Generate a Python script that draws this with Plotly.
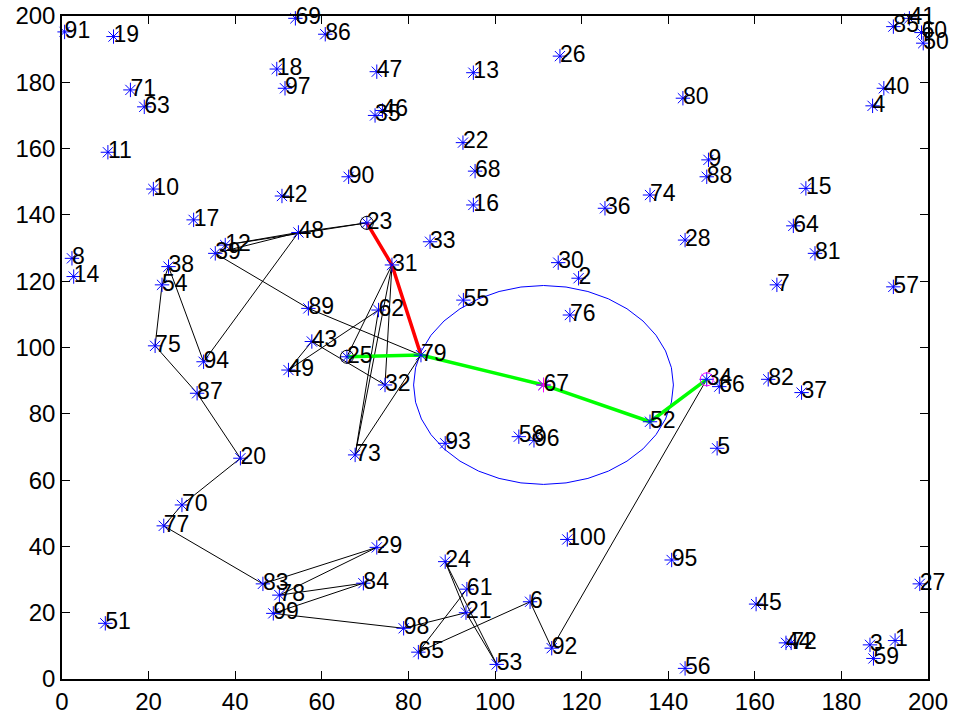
import numpy as np
import plotly.graph_objects as go

node_ids = list(range(1, 101))
node_x = [192.4, 119.3, 186.6, 187.2, 151.3, 108.1, 165.1, 2.3, 149.3, 21.1,
          10.6, 37.7, 95.0, 2.7, 171.8, 95.0, 30.4, 49.6, 11.9, 41.2,
          93.3, 92.6, 70.4, 88.5, 65.8, 115.0, 198.1, 143.9, 72.7, 114.6,
          76.2, 74.6, 85.0, 148.9, 72.3, 125.4, 170.8, 24.6, 35.4, 189.8,
          195.7, 50.8, 57.7, 167.2, 160.3, 74.0, 72.7, 54.6, 52.3, 198.9,
          10.0, 135.8, 100.4, 23.1, 92.7, 143.9, 192.0, 105.5, 187.4, 198.5,
          93.5, 73.1, 19.0, 168.9, 82.3, 151.8, 111.2, 95.4, 53.9, 27.7,
          15.8, 168.4, 67.7, 135.8, 21.5, 117.3, 23.5, 50.2, 82.9, 143.4,
          173.9, 163.1, 46.4, 69.6, 192.0, 60.8, 31.2, 148.9, 56.9, 66.2,
          0.6, 113.1, 88.5, 32.7, 140.8, 109.0, 51.5, 78.9, 48.8, 116.7]
node_y = [11.6, 120.9, 10.3, 172.9, 69.6, 23.3, 118.9, 126.9, 156.6, 147.8,
          158.9, 130.9, 182.9, 121.4, 148.0, 143.0, 138.5, 184.0, 193.8, 66.6,
          20.0, 161.8, 137.6, 35.4, 97.2, 187.9, 28.7, 132.4, 39.7, 125.6,
          124.9, 88.7, 131.9, 90.4, 170.0, 142.0, 86.4, 124.4, 128.4, 178.2,
          199.3, 145.7, 101.8, 10.9, 22.6, 171.5, 183.2, 134.7, 93.2, 191.8,
          16.8, 77.6, 4.4, 118.9, 114.3, 3.2, 118.3, 73.1, 6.2, 195.0,
          27.1, 111.3, 172.6, 136.7, 8.1, 88.2, 88.7, 153.2, 199.3, 52.5,
          177.7, 10.9, 67.6, 146.0, 100.5, 109.8, 46.2, 25.3, 97.7, 175.2,
          128.4, 90.4, 28.7, 28.9, 196.8, 194.5, 86.2, 151.5, 111.8, 151.5,
          195.2, 9.3, 71.1, 95.7, 35.9, 72.0, 178.2, 15.3, 19.8, 42.1]

edges = [(23, 48), (23, 12), (48, 12), (48, 39), (39, 89), (48, 94), (94, 38),
         (38, 54), (54, 75), (75, 87), (87, 20), (20, 70), (70, 77), (77, 83),
         (83, 29), (78, 29), (78, 84), (99, 84), (99, 98), (98, 21), (65, 61),
         (65, 6), (6, 92), (92, 34), (24, 53), (24, 21), (21, 53), (89, 79),
         (43, 49), (49, 62), (43, 32), (31, 25), (31, 73), (31, 32), (62, 73),
         (73, 79)]

red_path = [23, 31, 79]
green_path = [25, 79, 67, 52, 34]
start_nodes = [23, 25]
target_node = 34
center_node = 67
radius = 30

pos = {i: (x, y) for i, x, y in zip(node_ids, node_x, node_y)}
FONT = "Liberation Sans, Arial, sans-serif"

fig = go.Figure()

th = np.linspace(0, 2 * np.pi, 37)
cx, cy = pos[center_node]
fig.add_trace(go.Scatter(x=cx + radius * np.cos(th), y=cy + radius * np.sin(th),
                         mode="lines", line=dict(color="#0000ff", width=1),
                         hoverinfo="skip"))

ex, ey = [], []
for a, b in edges:
    ex += [pos[a][0], pos[b][0], None]
    ey += [pos[a][1], pos[b][1], None]
fig.add_trace(go.Scatter(x=ex, y=ey, mode="lines",
                         line=dict(color="black", width=1), hoverinfo="skip"))

fig.add_trace(go.Scatter(x=[pos[i][0] for i in red_path], y=[pos[i][1] for i in red_path],
                         mode="lines", line=dict(color="#ff0000", width=3.5)))
fig.add_trace(go.Scatter(x=[pos[i][0] for i in green_path], y=[pos[i][1] for i in green_path],
                         mode="lines", line=dict(color="#00ff00", width=3.5)))

fig.add_trace(go.Scatter(x=node_x, y=node_y, mode="markers",
                         marker=dict(symbol="asterisk-open", size=12, color="#0000ff",
                                     line=dict(color="#0000ff", width=1)),
                         cliponaxis=False))

fig.add_trace(go.Scatter(x=[pos[i][0] for i in start_nodes], y=[pos[i][1] for i in start_nodes],
                         mode="markers",
                         marker=dict(symbol="circle-open", size=13, color="black",
                                     line=dict(color="black", width=1))))
fig.add_trace(go.Scatter(x=[pos[target_node][0]], y=[pos[target_node][1]], mode="markers",
                         marker=dict(symbol="circle-open", size=13, color="#ff00ff",
                                     line=dict(color="#ff00ff", width=1))))
fig.add_trace(go.Scatter(x=[pos[center_node][0]], y=[pos[center_node][1]], mode="markers",
                         marker=dict(symbol="asterisk-open", size=12, color="#ff00ff",
                                     line=dict(color="#ff00ff", width=1))))

fig.add_trace(go.Scatter(x=node_x, y=node_y, mode="text",
                         text=[str(i) for i in node_ids], textposition="middle right",
                         marker=dict(size=1),
                         textfont=dict(family=FONT, size=23, color="black"),
                         cliponaxis=False, hoverinfo="skip"))

axis_common = dict(range=[0, 200], tickmode="array", tickvals=list(range(0, 201, 20)),
                   ticks="inside", ticklen=8, tickwidth=1, tickcolor="black",
                   showline=True, linecolor="black", linewidth=1.5, mirror="ticks",
                   showgrid=False, zeroline=False, automargin=False,
                   tickfont=dict(family=FONT, size=24, color="black"))

fig.update_layout(width=954, height=716, showlegend=False,
                  paper_bgcolor="white", plot_bgcolor="white",
                  margin=dict(l=62, r=26, t=16, b=37),
                  xaxis=axis_common, yaxis=axis_common)

fig.write_html("out.html", config={"displayModeBar": False},
               post_script="document.body.style.margin='0';document.body.style.padding='0';")
